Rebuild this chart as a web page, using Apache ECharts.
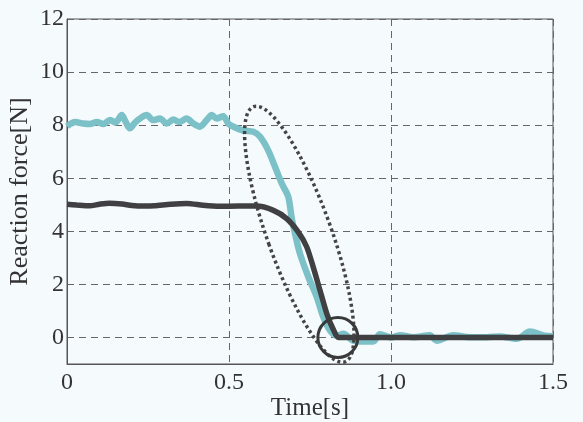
<!DOCTYPE html>
<html><head><meta charset="utf-8">
<script src="https://cdn.jsdelivr.net/npm/echarts@6/dist/echarts.min.js"></script>
<style>html,body{margin:0;padding:0;background:#f5fafc}#c{width:583px;height:422px}</style>
</head><body><div id="c"></div>
<script>
// Light blue (measured) reaction force
const blueTime = [0.0,0.025,0.05,0.071,0.092,0.112,0.133,0.15,0.169,0.18,0.194,0.21,0.225,0.246,0.266,0.287,0.308,0.328,0.348,0.369,0.39,0.41,0.431,0.447,0.462,0.482,0.498,0.519,0.544,0.575,0.596,0.621,0.642,0.663,0.683,0.693,0.704,0.719,0.745,0.771,0.791,0.812,0.832,0.853,0.88,0.915,0.945,0.966,1.0,1.028,1.069,1.12,1.141,1.192,1.244,1.295,1.336,1.388,1.429,1.47,1.5];
const blueForce = [7.96,8.12,8.06,8.04,8.12,8.04,8.19,8.1,8.38,8.15,7.88,8.1,8.25,8.38,8.19,8.25,8.06,8.21,8.12,8.25,8.06,7.94,8.19,8.38,8.25,8.34,8.06,7.91,7.8,7.75,7.56,7.05,6.43,5.8,5.3,4.54,3.9,3.16,2.28,1.52,0.77,0.26,0.07,0.14,-0.1,-0.15,-0.15,0.12,0.0,0.08,0.01,0.08,-0.12,0.08,0.01,0.01,0.04,-0.05,0.22,0.08,0.05];
// Dark (reference) reaction force
const darkTime = [0,0.03,0.07,0.1,0.13,0.17,0.2,0.24,0.27,0.32,0.37,0.42,0.47,0.53,0.585,0.637,0.678,0.714,0.74,0.76,0.781,0.802,0.822,0.838,1.0,1.5];
const darkForce = [5.02,4.99,4.96,5.02,5.06,5.03,4.97,4.95,4.96,5.02,5.05,4.98,4.94,4.95,4.95,4.79,4.48,3.97,3.41,2.65,1.77,0.89,0.3,0.0,0.0,0.0];
const xTicks = [0, 0.5, 1.0, 1.5];
const yTicks = [0, 2, 4, 6, 8, 10, 12];
// annotation anchors (data coords)
const ellipseCenter = [0.717, 3.89];
const circleCenter = [0.836, 0];

const pair = (xs, ys) => xs.map((x, i) => [x, ys[i]]);
const font = 'Liberation Serif';
const chart = echarts.init(document.getElementById('c'), null, {renderer: 'canvas'});
chart.setOption({
  backgroundColor: '#f5fafc',
  animation: false,
  grid: {left: 67, right: 30, top: 19, bottom: 58, show: true, borderColor: '#555', borderWidth: 1,
         containLabel: false, outerBoundsMode: 'none'},
  xAxis: {
    type: 'value', min: 0, max: 1.5, interval: 0.5,
    axisLine: {show: true, onZero: false, lineStyle: {color: '#555', width: 1}},
    axisTick: {show: false},
    axisLabel: {fontFamily: font, fontSize: 24, color: '#333', margin: 7,
      formatter: v => v === 0 ? '0' : v.toFixed(1)},
    splitLine: {show: true, lineStyle: {color: '#666', width: 1, type: [7, 5]}},
    name: 'Time[s]', nameLocation: 'middle', nameGap: 32, nameMoveOverlap: false,
    nameTextStyle: {fontFamily: font, fontSize: 25, color: '#333'}
  },
  yAxis: {
    type: 'value', min: -1, max: 12,
    axisLine: {show: true, onZero: false, lineStyle: {color: '#555', width: 1}},
    axisTick: {show: false, customValues: yTicks},
    axisLabel: {fontFamily: font, fontSize: 24, color: '#333', margin: 3, customValues: yTicks},
    splitLine: {show: true, lineStyle: {color: '#666', width: 1, type: [7, 5]}},
    name: 'Reaction force[N]', nameLocation: 'middle', nameGap: 34, nameMoveOverlap: false,
    nameTextStyle: {fontFamily: font, fontSize: 26, color: '#333'}
  },
  series: [
    {type: 'line', data: pair(blueTime, blueForce), showSymbol: false, smooth: 0.3,
     lineStyle: {color: '#7cc1c8', width: 6.5}, z: 2},
    {type: 'line', data: pair(darkTime, darkForce), showSymbol: false, smooth: 0.25,
     lineStyle: {color: '#404042', width: 5.5}, z: 3}
  ]
});
const ec = chart.convertToPixel({gridIndex: 0}, ellipseCenter);
const cc = chart.convertToPixel({gridIndex: 0}, circleCenter);
chart.setOption({
  graphic: [
    {type: 'ellipse', x: ec[0], y: ec[1], rotation: 19.7 * Math.PI / 180,
     shape: {cx: 0, cy: 0, rx: 32, ry: 135.5},
     style: {fill: 'none', stroke: '#444', lineWidth: 3.5, lineDash: [3, 3]}, z: 10},
    {type: 'circle', x: cc[0], y: cc[1], shape: {cx: 0, cy: 0, r: 20},
     style: {fill: 'none', stroke: '#3a3a3a', lineWidth: 3}, z: 10}
  ]
});
</script></body></html>
